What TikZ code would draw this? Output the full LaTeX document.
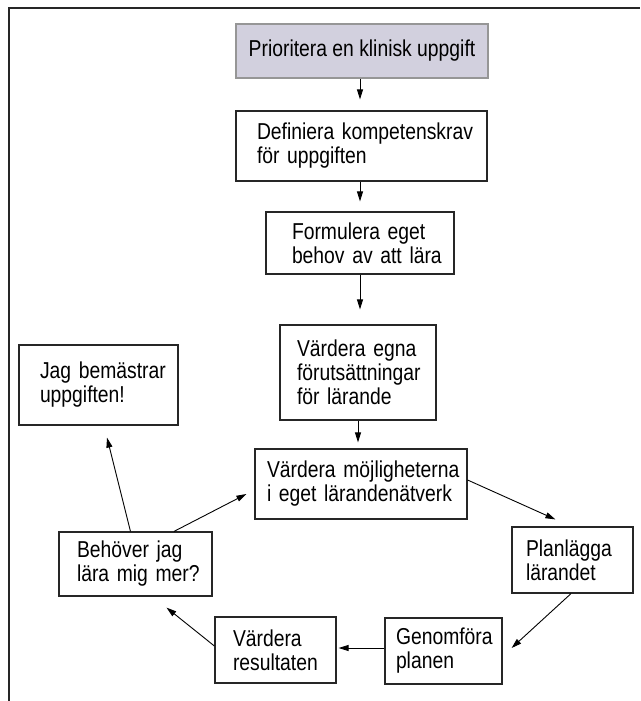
\documentclass[tikz,border=0pt]{standalone}
\usepackage{fontspec}
\setmainfont{Liberation Sans}[FakeStretch=0.84]
\usetikzlibrary{arrows.meta}
\usetikzlibrary{positioning}

\definecolor{boxgray}{RGB}{210,208,222}
\definecolor{edgegray}{RGB}{150,150,150}
\hyphenpenalty=10000
\exhyphenpenalty=10000

\begin{document}
\begin{tikzpicture}[x=1pt,y=1pt,>={Triangle[length=10pt,width=6pt]},
    every node/.style={font=\fontsize{23}{24}\selectfont},
    stepbox/.style 2 args={draw=black!85,line width=1.2pt,align=left,inner ysep=0pt,
      inner xsep=#1,text width=#2},
    arr/.style={->,line width=0.9pt}]
    \useasboundingbox (0,0) rectangle (640,-701);
    \draw[line width=2pt,black!85] (9,-701) -- (9,-8) -- (640,-8);

    \node[draw=edgegray,fill=boxgray,line width=1.2pt,minimum width=252pt,minimum height=54pt] (prio) at (362,-51) {Prioritera en klinisk uppgift};
    \node[stepbox={21pt}{209pt},minimum height=70pt] (def) at (361.5,-146) {Definiera~kompetenskrav\\för~uppgiften};
    \node[stepbox={26pt}{136pt},minimum height=62pt] (form) at (360,-243) {Formulera~eget\\behov~av~att~lära};
    \node[stepbox={17pt}{122pt},minimum height=95pt] (egna) at (358,-372.5) {Värdera~egna\\förutsättningar\\för~lärande};
    \node[stepbox={12pt}{188pt},minimum height=70pt] (natv) at (361,-484) {Värdera~möjligheterna\\i~eget~lärandenätverk};
    \node[stepbox={21pt}{117pt},minimum height=80pt] (jag) at (98.5,-385) {Jag~bemästrar\\uppgiften!};
    \node[stepbox={18pt}{117pt},minimum height=64pt] (beh) at (135.5,-564) {Behöver~jag\\lära~mig~mer?};
    \node[stepbox={14pt}{93pt},minimum height=66pt] (plan) at (572.5,-560) {Planlägga\\lärandet};
    \node[stepbox={11pt}{95pt},minimum height=66pt] (genom) at (443.5,-651) {Genomföra\\planen};
    \node[stepbox={18pt}{85pt},minimum height=66pt] (res) at (275.5,-650) {Värdera\\resultaten};

    \coordinate (axis) at (360,0);
    \draw[arr,shorten >=11pt] (axis |- prio.south) -- (axis |- def.north);
    \draw[arr,shorten >=10pt] (axis |- def.south) -- (axis |- form.north);
    \draw[arr,shorten >=15pt] (axis |- form.south) -- (axis |- egna.north);
    \draw[arr,shorten >=6pt] ([xshift=-2]axis |- egna.south) -- ([xshift=-2]axis |- natv.north);
    \draw[arr] ([yshift=4]natv.east) -- ([shift={(44,7)}]plan.north west);
    \draw[arr] ([xshift=-1.5]plan.south) -- ([shift={(9,3)}]genom.east);
    \draw[arr,shorten >=2pt] ([yshift=3]genom.west) -- ([yshift=3]genom.west -| res.east);
    \draw[arr] ([yshift=4]res.west) -- ([shift={(31,-11)}]beh.south);
    \draw[arr] ([xshift=-5]beh.north) -- ([shift={(8.5,-12)}]jag.south);
    \draw[arr] ([xshift=38.5]beh.north) -- ([shift={(-8,-10)}]natv.west);
\end{tikzpicture}
\end{document}
